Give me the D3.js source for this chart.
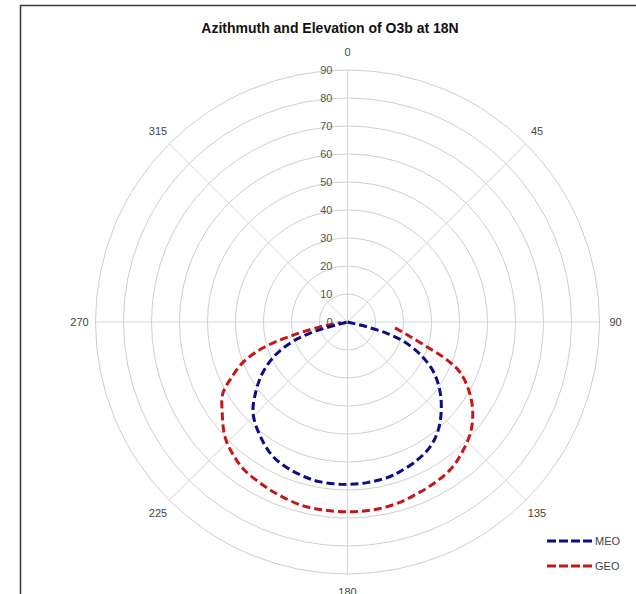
<!DOCTYPE html>
<html>
<head>
<meta charset="utf-8">
<script src="https://cdn.jsdelivr.net/npm/d3@7"></script>
<style>
  body { margin: 0; background: #fff; }
  svg { display: block; font-family: "Liberation Sans", Arial, sans-serif; }
</style>
</head>
<body>
<div id="graph_01"></div>
<script>
// Données

const azimuthLabels = [0, 45, 90, 135, 180, 225, 270, 315];
const elevationTicks = [0, 10, 20, 30, 40, 50, 60, 70, 80, 90];

const meoAzimuth = [100, 104, 106, 109, 114, 120, 127, 134, 140, 146, 153, 161, 165, 173, 181, 190, 195, 201, 209, 217, 226, 233, 239, 245, 250, 253, 255, 256];
const meoElevation = [0, 7.1, 14.6, 21.1, 28.4, 35.4, 41.4, 46.5, 50.4, 53.3, 55.2, 56.7, 57.3, 57.8, 58.0, 57.9, 57.4, 56.6, 54.9, 51.5, 46.9, 40.9, 35.4, 28.8, 21.5, 15.0, 8.0, 0];

const geoAzimuth = [97, 103, 107.7, 110.5, 114, 120, 126, 132, 139, 145, 152, 159, 165, 172, 179, 187, 194, 202, 208, 215, 221, 227, 234, 240, 244, 249, 253, 256, 260, 263, 266];
const geoElevation = [17.1, 22.9, 30.5, 37.2, 43.9, 50.3, 55.3, 59.1, 62.1, 64.2, 65.4, 66.3, 67.2, 67.7, 67.8, 67.7, 67.5, 66.4, 65.5, 64.4, 62.5, 59.9, 55.3, 51.5, 46.5, 39.8, 31.5, 21.2, 10.0, 3.9, 2.5];

const seriesNames = ['MEO', 'GEO'];

//---------------------------------------------------------------------------------------

// Canevas

const width = 636;
const height = 594;
const cx = 347.5;
const cy = 322;
const outerRadius = 252;

const svg = d3.select('#graph_01')
  .append('svg')
  .attr('width', width)
  .attr('height', height);

// cadre du graphique
svg.append('rect')
  .attr('x', 20.5)
  .attr('y', 5.5)
  .attr('width', 640)
  .attr('height', 620)
  .attr('fill', '#fff')
  .attr('stroke', '#3a3a3a')
  .attr('stroke-width', 1.5);

// Titre
svg.append('text')
  .attr('x', 330)
  .attr('y', 33)
  .attr('text-anchor', 'middle')
  .attr('font-size', 14)
  .attr('font-weight', 'bold')
  .attr('fill', '#111')
  .text('Azithmuth and Elevation of O3b at 18N');

//---------------------------------------------------------------------------------------

// Échelles

const scaleR = d3.scaleLinear()
  .domain([0, 90])
  .range([0, outerRadius]);

const scaleA = d3.scaleLinear()
  .domain([0, 360])
  .range([0, 2 * Math.PI]);

const g = svg.append('g')
  .attr('transform', `translate(${cx},${cy})`);

//---------------------------------------------------------------------------------------

// Grille

g.append('g')
  .attr('class', 'rings')
  .selectAll('circle')
  .data(elevationTicks.filter(d => d > 0))
  .join('circle')
  .attr('r', d => scaleR(d))
  .attr('fill', 'none')
  .attr('stroke', '#cfcfcf')
  .attr('stroke-width', 1);

g.append('g')
  .attr('class', 'spokes')
  .selectAll('line')
  .data(azimuthLabels)
  .join('line')
  .attr('x1', 0)
  .attr('y1', 0)
  .attr('x2', d => scaleR(90) * Math.sin(scaleA(d)))
  .attr('y2', d => -scaleR(90) * Math.cos(scaleA(d)))
  .attr('stroke', '#d6d6d6')
  .attr('stroke-width', 1);

// labels élévation
g.append('g')
  .attr('class', 'labels-elev')
  .selectAll('text')
  .data(elevationTicks)
  .join('text')
  .attr('x', -15)
  .attr('y', d => -scaleR(d))
  .attr('dy', '0.35em')
  .attr('text-anchor', 'end')
  .attr('font-size', 11)
  .attr('fill', '#555')
  .text(d => d);

// labels azimut
g.append('g')
  .attr('class', 'labels-az')
  .selectAll('text')
  .data(azimuthLabels)
  .join('text')
  .attr('x', d => 268 * Math.sin(scaleA(d)))
  .attr('y', d => -270 * Math.cos(scaleA(d)))
  .attr('dy', '0.35em')
  .attr('text-anchor', 'middle')
  .attr('font-size', 11)
  .attr('fill', '#444')
  .text(d => d);

//---------------------------------------------------------------------------------------

// Courbes

const palette = { 'MEO': '#0d0d86', 'GEO': '#c41818' };

const meoData = meoAzimuth.map((a, i) => ({ az: a, el: meoElevation[i] }));
const geoData = geoAzimuth.map((a, i) => ({ az: a, el: geoElevation[i] }));

const line = d3.lineRadial()
  .angle(d => scaleA(d.az))
  .radius(d => scaleR(d.el))
  .curve(d3.curveCatmullRom.alpha(0.5));

g.append('path')
  .datum(geoData)
  .attr('d', line)
  .attr('fill', 'none')
  .attr('stroke', palette['GEO'])
  .attr('stroke-width', 3)
  .attr('stroke-dasharray', '8,4');

g.append('path')
  .datum(meoData)
  .attr('d', line)
  .attr('fill', 'none')
  .attr('stroke', palette['MEO'])
  .attr('stroke-width', 3)
  .attr('stroke-dasharray', '8,4');

//---------------------------------------------------------------------------------------

// Légende

const legend = svg.append('g')
  .attr('class', 'legend')
  .selectAll('g')
  .data(seriesNames)
  .join('g')
  .attr('transform', (d, i) => `translate(547,${541 + i * 25})`);

legend.append('line')
  .attr('x1', 0)
  .attr('x2', 46)
  .attr('stroke', d => palette[d])
  .attr('stroke-width', 3)
  .attr('stroke-dasharray', '9,3');

legend.append('text')
  .attr('x', 48)
  .attr('dy', '0.35em')
  .attr('font-size', 11)
  .attr('fill', '#444')
  .text(d => d);
</script>
</body>
</html>
